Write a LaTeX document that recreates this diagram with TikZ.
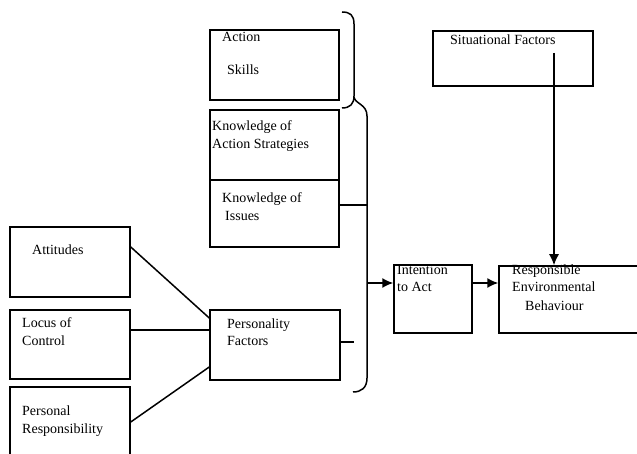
\documentclass[tikz,border=0pt]{standalone}
\usepackage{fontspec}
\setmainfont{Liberation Serif}
\usetikzlibrary{arrows.meta}
\begin{document}
\begin{tikzpicture}[x=1pt,y=-1pt,
  box/.style={draw,line width=1.5pt,inner sep=0pt},
  txt/.style={anchor=base west,inner sep=0pt,font=\fontsize{14}{17}\selectfont},
  con/.style={line width=1.5pt},
  arr/.style={line width=1.5pt,-{Latex[length=11pt,width=10pt]}}]
\useasboundingbox (0,0) rectangle (637,454);
\clip (0,0) rectangle (637,454);
\fill[white] (0,0) rectangle (637,454);
% boxes
\node[box,minimum width=129,minimum height=70] (as)  at (274.5,65) {};
\node[box,minimum width=129,minimum height=70] (kas) at (274.5,145) {};
\node[box,minimum width=129,minimum height=67] (ki)  at (274.5,213.5) {};
\node[box,minimum width=160,minimum height=55] (sf)  at (513,58.5) {};
\node[box,minimum width=120,minimum height=70] (att) at (70,262) {};
\node[box,minimum width=120,minimum height=69] (loc) at (70,344.5) {};
\node[box,minimum width=120,minimum height=73] (pr)  at (70,423.5) {};
\node[box,minimum width=130,minimum height=70] (pf)  at (275,345) {};
\node[box,minimum width=78,minimum height=68] (ia)  at (433,299) {};
\node[box,minimum width=141,minimum height=67] (rb)  at (569.5,299.5) {};
% texts
\node[txt] (t1) at (222,42) {Action};
\node[txt] (t2) at (227,75) {Skills};
\node[txt] (t3) at (212,131) {Knowledge of};
\node[txt] (t4) at (212,149) {Action Strategies};
\node[txt] (t5) at (222,203) {Knowledge of};
\node[txt] (t6) at (225,221) {Issues};
\node[txt] (t7) at (450,45) {Situational Factors};
\node[txt] (t8) at (32,255) {Attitudes};
\node[txt] (t9) at (22,327) {Locus of};
\node[txt] (t10) at (22,345) {Control};
\node[txt] (t11) at (22,415) {Personal};
\node[txt] (t12) at (22,433) {Responsibility};
\node[txt] (t13) at (227,328) {Personality};
\node[txt] (t14) at (227,345) {Factors};
\node[txt] (t15) at (397,275) {Intention};
\node[txt] (t16) at (397,292) {to Act};
\node[txt] (t17) at (512,275) {Responsible};
\node[txt] (t18) at (512,292) {Environmental};
\node[txt] (t19) at (525,310) {Behaviour};
% bracket
\coordinate (b0) at (342,12);
\coordinate (b1) at (342,108);
\coordinate (b2) at (353,392);
\coordinate (bki) at (367,205);
\coordinate (bia) at (367,283);
\coordinate (pfs) at (354,342);
\coordinate (sfs) at (554,53);
\draw[con] (b0) .. controls (350,12) and (354,15) .. (354,24) -- (354,96)
  .. controls (354,104) and (350,108) .. (b1);
\draw[con] (354,97) .. controls (355,104) and (367,104) .. (367,116) -- (367,378)
  .. controls (367,388) and (361,392) .. (b2);
% connectors
\draw[con] (ki.east |- bki) -- (bki);
\draw[con] (pf.east |- pfs) -- (pfs);
\draw[arr] (bia) -- (ia.west |- bia);
\draw[arr] (ia.east |- bia) -- (rb.west |- bia);
\draw[arr] (sfs) -- (rb.north -| sfs);
\draw[con] (att.east |- 0,247) -- (pf.west |- 0,318);
\draw[con] (loc.east |- 0,330) -- (pf.west |- 0,330);
\draw[con] (pr.east |- 0,422) -- (pf.west |- 0,367);
\end{tikzpicture}
\end{document}
